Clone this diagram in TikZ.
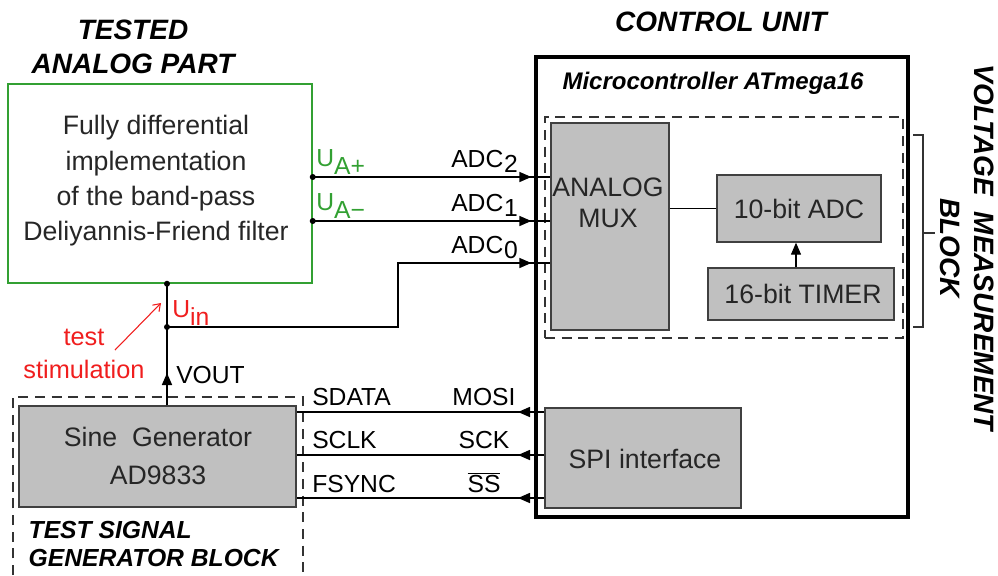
\documentclass[tikz,border=0pt]{standalone}
\usepackage{fontspec}
\setmainfont{Liberation Sans}
\usepackage{tikz}
\usetikzlibrary{arrows.meta,positioning,fit,calc}
\definecolor{boxgray}{RGB}{192,192,192}
\definecolor{anagreen}{RGB}{50,160,50}
\definecolor{stimred}{RGB}{240,30,30}
\newcommand{\subtxt}[2][5pt]{\raisebox{-#1}{#2}}

\begin{document}
\begin{tikzpicture}[x=0.75pt, y=-0.75pt]
  \tikzset{
    wire/.style={draw=black, line width=1.2pt},
    arr/.style={-{Triangle[length=9pt, width=7.5pt]}},
    gbox/.style={draw=black!75, fill=boxgray, line width=1pt, inner sep=0pt},
    anabox/.style={draw=anagreen, line width=1.1pt, inner sep=0pt},
    cubox/.style={draw=black, line width=3pt, inner sep=0pt},
    dbox/.style={draw=black!80, line width=1pt, dash pattern=on 7.5pt off 5pt},
    btxt/.style={font=\fontsize{20}{26.5}\selectfont, text=black!85, align=center},
    lbl/.style={font=\fontsize{18.5}{22}\selectfont, inner sep=0pt},
    ttl/.style={font=\fontsize{21}{26}\selectfont\bfseries\itshape, align=center},
    dot/.style={circle, fill=black, inner sep=0pt, minimum size=4.5pt}
  }
  \useasboundingbox (0,0) rectangle (998,575);

  % - Tested analog part ---
  \node[ttl] (tapt) at (133,47) {TESTED\\ANALOG PART};
  \node[anabox, fit={(8,84) (312,283)}] (ana) {};
  \node[btxt] (anatxt) at (156,181) {Fully differential\\implementation\\of the band-pass\\Deliyannis-Friend filter};

  % - Control unit ---
  \node[ttl] (cut) at (721,22) {CONTROL UNIT};
  \node[cubox, fit={(536,57) (908,517)}] (cu) {};
  \node[ttl, font=\fontsize{18}{22}\selectfont\bfseries\itshape] (mct) at (713,83) {Microcontroller ATmega16};
  \node[dbox, inner sep=0pt, fit={(545,117) (903,338)}] (vmb) {};
  \node[gbox, fit={(551,123) (669,330)}] (mux) {};
  \node[btxt, font=\fontsize{20}{23}\selectfont] (muxtxt) at (608,203) {ANALOG\\MUX};
  \node[gbox, fit={(717,175) (881,242)}] (adc) {};
  \node[btxt] (adctxt) at (adc.center) {10-bit ADC};
  \node[gbox, fit={(708,268) (894,320)}] (tim) {};
  \node[btxt] (timtxt) at (803,294) {16-bit TIMER};
  \node[gbox, fit={(545,408) (741,508)}] (spi) {};
  \node[btxt] (spitxt) at (645,459) {SPI interface};

  % bracket + block title
  \draw[wire, line width=0.8pt, draw=black!80] (913,135) -- (923,135) -- (923,327) -- (913,327);
  \draw[wire, line width=0.8pt, draw=black!80] (923,233) -- (935,233);
  \node[ttl, rotate=-90] (vmbt) at (967,248) {VOLTAGE\ \ MEASUREMENT\\BLOCK};

  % - Test signal generator ---
  \draw[dbox] (13,575) -- (13,397) -- (303,397) -- (303,575);
  \node[gbox, fit={(19,406) (296,507)}] (gen) {};
  \node[btxt, font=\fontsize{20}{28}\selectfont] (gentxt) at (158,456) {Sine\ \ Generator\\AD9833};
  \node[ttl, font=\fontsize{18.5}{21}\selectfont\bfseries\itshape, align=left, anchor=north west] (tsgt) at (24,517) {TEST SIGNAL\\GENERATOR BLOCK};

  % - Analog inputs ---
  \coordinate (uap) at (ana.east |- 0,177);
  \coordinate (uam) at (ana.east |- 0,221);
  \foreach \pt in {uap,uam} {
    \draw[wire] (\pt) -- (\pt -| mux.west);
    \draw[wire, arr, shorten >=2pt] (\pt) -- (\pt -| cu.west);
  }
  \coordinate (vtop) at (ana.south -| 167,0);
  \coordinate (uin) at (167,327);
  \coordinate (bend) at (398,263);
  \coordinate (vout) at (167,373);
  \draw[wire] (uin) -| (bend) -- (bend -| mux.west);
  \draw[wire, arr, shorten >=2pt] (bend) -- (bend -| cu.west);
  \draw[wire] (gen.north -| vtop) -- (vtop);
  \draw[wire, arr] (gen.north -| vtop) -- (vout);
  \node[dot] (d1) at (uap) {};
  \node[dot] (d2) at (uam) {};
  \node[dot] (d3) at (vtop) {};
  \node[dot] (d4) at (uin) {};

  % - Inside the microcontroller ---
  \draw[wire, line width=0.9pt] (adc.west -| mux.east) -- (adc.west);
  \draw[wire, line width=0.9pt, arr] (tim.north -| 796,0) -- (adc.south -| 796,0);

  % - SPI lines ---
  \foreach \yy/\nm in {412/mosi,455/sck,498/ss} {
    \coordinate (\nm) at (spi.west |- 0,\yy);
    \draw[wire] (\nm) -- (\nm -| gen.east);
    \draw[wire, arr] (\nm -| cu.west) -- ++(-16,0);
  }

  % - Labels ---
  \node[lbl, text=anagreen, anchor=base west] (luap) at (316,166) {U\subtxt[6pt]{A+}};
  \node[lbl, text=anagreen, anchor=base west] (luam) at (316,210) {U\subtxt[6pt]{A−}};
  \node[lbl, anchor=base east] (ladc2) at (518,167) {ADC\kern0.5pt\subtxt[4pt]{2}};
  \node[lbl, anchor=base east] (ladc1) at (518,211) {ADC\kern0.5pt\subtxt[4pt]{1}};
  \node[lbl, anchor=base east] (ladc0) at (518,253) {ADC\kern0.5pt\subtxt[4pt]{0}};
  \node[lbl, text=stimred, anchor=base west] (luin) at (172,317) {U\subtxt[6pt]{in}};
  \node[lbl, anchor=base west] (lvout) at (176,383) {VOUT};
  \node[lbl, text=stimred, align=center, font=\fontsize{19}{25}\selectfont] (lstim) at (84,354) {test\\stimulation};
  \coordinate (stima) at (115,350);
  \coordinate (stimb) at (161,303);
  \draw[stimred, line width=0.8pt, -{Straight Barb[length=5pt, width=7pt]}] (stima) -- (stimb);
  \node[lbl, anchor=base west] (lsdata) at (312,405) {SDATA};
  \node[lbl, anchor=base west] (lsclk) at (312,448) {SCLK};
  \node[lbl, anchor=base west] (lfsync) at (312,492) {FSYNC};
  \node[lbl, anchor=base] (lmosi) at (484,405) {MOSI};
  \node[lbl, anchor=base] (lsck) at (484,448) {SCK};
  \node[lbl, anchor=base] (lss) at (484,492) {$\overline{\mbox{SS}}$};

\end{tikzpicture}
\end{document}
